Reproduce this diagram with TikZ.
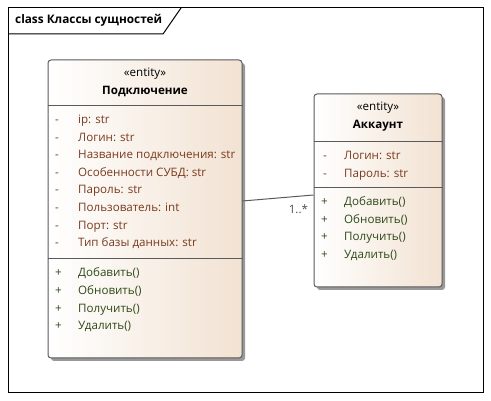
\documentclass[tikz,border=0pt]{standalone}
\usepackage{fontspec}
\setmainfont{Open Sans}
\usetikzlibrary{shadows}
\definecolor{attrcol}{RGB}{122,58,30}
\definecolor{opcol}{RGB}{46,74,24}
\definecolor{edgecol}{RGB}{90,90,90}
\definecolor{peach}{RGB}{242,226,210}

\begin{document}
\begin{tikzpicture}[x=1pt,y=-1pt,
		classbox/.style={draw=edgecol,line width=1pt,rounded corners=3pt,left color=white,right color=peach,
			drop shadow={shadow xshift=3pt,shadow yshift=-3pt,fill=black!40,opacity=1}},
		txt/.style={anchor=base west,inner sep=0pt,font=\fontsize{11.6}{13}\selectfont},
		attr/.style={txt,text=attrcol},
		op/.style={txt,text=opcol},
		head/.style={anchor=base,inner sep=0pt,font=\fontsize{11.6}{13}\selectfont},
		cname/.style={head,font=\fontsize{11.6}{13}\selectfont\bfseries}]
			\useasboundingbox (0,0) rectangle (491,401);
			% diagram frame and its tab
			\draw[line width=1pt] (8,8) rectangle (483,393);
			\draw[line width=1pt] (8,34) -- (163,34) -- (181,8);
			\node[anchor=base west,inner sep=0pt,font=\fontsize{11.8}{13}\selectfont\bfseries] (title) at (15,24) {class Классы сущностей};
			% class boxes
			\node[classbox,minimum width=194pt,minimum height=298pt] (conn) at (145,209) {};
			\node[classbox,minimum width=128pt,minimum height=193pt] (acc) at (378,190.5) {};
			\draw[edgecol,line width=1pt] (conn.west |- 0,106) -- (conn.east |- 0,106);
			\draw[edgecol,line width=1pt] (conn.west |- 0,259) -- (conn.east |- 0,259);
			\draw[edgecol,line width=1pt] (acc.west |- 0,141.5) -- (acc.east |- 0,141.5);
			\draw[edgecol,line width=1pt] (acc.west |- 0,187.5) -- (acc.east |- 0,187.5);
			% headers
			\node[head] (connst) at (145,76.5) {«entity»};
			\node[cname] (connnm) at (145,94.5) {Подключение};
			\node[head] (accst) at (378,110.5) {«entity»};
			\node[cname] (accnm) at (378,128.5) {Аккаунт};
			% attributes and operations
			\foreach \t [count=\k from 0] in {ip: str,Логин: str,Название подключения: str,Особенности СУБД: str,Пароль: str,Пользователь: int,Порт: str,Тип базы данных: str} {
				\node[attr] (conns\k) at (55,123.5+17.6*\k) {-};
				\node[attr] (conna\k) at (78,123.5+17.6*\k) {\t};
			}
			\foreach \t [count=\k from 0] in {Добавить(),Обновить(),Получить(),Удалить()} {
				\node[op] (connp\k) at (55,277+17.6*\k) {+};
				\node[op] (connm\k) at (78,277+17.6*\k) {\t};
				\node[op] (accp\k) at (321,205.5+17.6*\k) {+};
				\node[op] (accm\k) at (344,205.5+17.6*\k) {\t};
			}
			\foreach \t [count=\k from 0] in {Логин: str,Пароль: str} {
				\node[attr] (accs\k) at (323,159.5+17.6*\k) {-};
				\node[attr] (acca\k) at (344,159.5+17.6*\k) {\t};
			}
			% association
			\draw[edgecol,line width=1pt] (conn.east |- 0,201) -- (acc.west |- 0,195)
				node[pos=1,anchor=base east,xshift=-5pt,yshift=-19pt,font=\fontsize{11.6}{13}\selectfont,text=black!70,inner sep=0pt] (mult) {1..*};
		\end{tikzpicture}
\end{document}
